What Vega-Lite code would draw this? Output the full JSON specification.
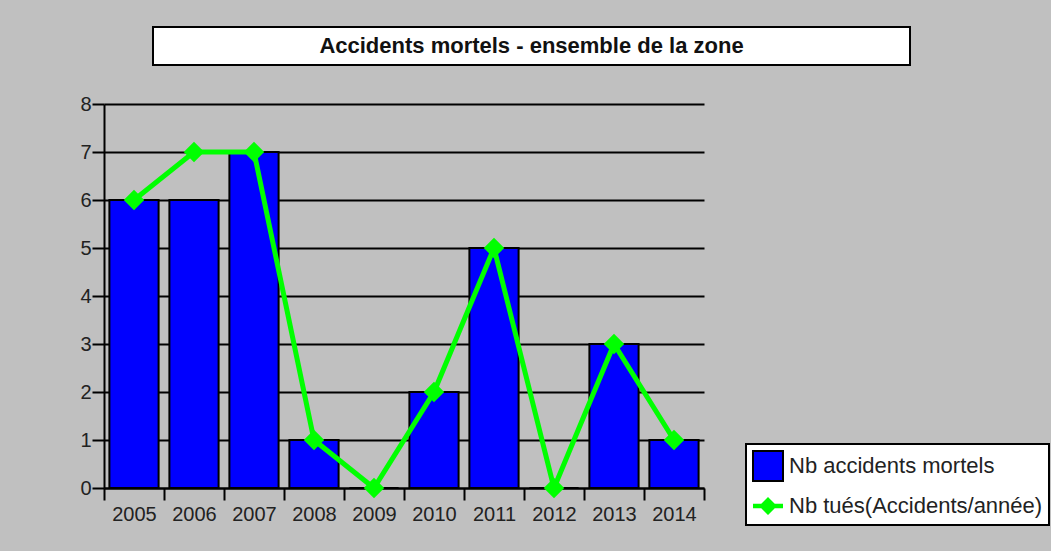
{
  "$schema": "https://vega.github.io/schema/vega-lite/v6.json",
  "background": "#c0c0c0",
  "padding": {"left": 79, "top": 26, "right": 15, "bottom": 27},
  "config": {
    "font": "Liberation Sans",
    "view": {"stroke": null}
  },
  "datasets": {
    "acc": [
      {"annee": "2005", "serie": "Nb accidents mortels", "valeur": 6},
      {"annee": "2006", "serie": "Nb accidents mortels", "valeur": 6},
      {"annee": "2007", "serie": "Nb accidents mortels", "valeur": 7},
      {"annee": "2008", "serie": "Nb accidents mortels", "valeur": 1},
      {"annee": "2009", "serie": "Nb accidents mortels", "valeur": 0},
      {"annee": "2010", "serie": "Nb accidents mortels", "valeur": 2},
      {"annee": "2011", "serie": "Nb accidents mortels", "valeur": 5},
      {"annee": "2012", "serie": "Nb accidents mortels", "valeur": 0},
      {"annee": "2013", "serie": "Nb accidents mortels", "valeur": 3},
      {"annee": "2014", "serie": "Nb accidents mortels", "valeur": 1},
      {"annee": "2005", "serie": "Nb tués(Accidents/année)", "valeur": 6},
      {"annee": "2006", "serie": "Nb tués(Accidents/année)", "valeur": 7},
      {"annee": "2007", "serie": "Nb tués(Accidents/année)", "valeur": 7},
      {"annee": "2008", "serie": "Nb tués(Accidents/année)", "valeur": 1},
      {"annee": "2009", "serie": "Nb tués(Accidents/année)", "valeur": 0},
      {"annee": "2010", "serie": "Nb tués(Accidents/année)", "valeur": 2},
      {"annee": "2011", "serie": "Nb tués(Accidents/année)", "valeur": 5},
      {"annee": "2012", "serie": "Nb tués(Accidents/année)", "valeur": 0},
      {"annee": "2013", "serie": "Nb tués(Accidents/année)", "valeur": 3},
      {"annee": "2014", "serie": "Nb tués(Accidents/année)", "valeur": 1}
    ],
    "titre": [{"texte": "Accidents mortels - ensemble de la zone"}]
  },
  "spacing": 28,
  "vconcat": [
    {
      "spacing": 0,
      "hconcat": [
        {
          "width": 48,
          "height": 38,
          "data": {"name": "titre"},
          "mark": {"type": "text", "text": ""},
          "view": {"stroke": null, "fill": null}
        },
        {
          "width": 757,
          "height": 38,
          "data": {"name": "titre"},
          "mark": {"type": "text", "fontSize": 22, "fontWeight": "bold", "color": "#111", "font": "Liberation Sans", "baseline": "middle", "align": "center"},
          "encoding": {"text": {"field": "texte"}},
          "view": {"fill": "white", "stroke": "black", "strokeWidth": 2}
        }
      ]
    },
    {
      "width": 600,
      "height": 384,
      "data": {"name": "acc"},
      "view": {"stroke": null},
      "encoding": {
        "x": {
          "field": "annee",
          "type": "nominal",
          "title": null,
          "scale": {"paddingInner": 0, "paddingOuter": 0},
          "axis": {
            "labelAngle": 0,
            "labelFontSize": 20,
            "labelColor": "#222",
            "labelPadding": 4,
            "tickBand": "extent",
            "tickSize": 12,
            "tickWidth": 2,
            "tickColor": "black",
            "domainColor": "black",
            "domainWidth": 2,
            "grid": false
          }
        },
        "y": {
          "field": "valeur",
          "type": "quantitative",
          "title": null,
          "scale": {"domain": [0, 8], "nice": false},
          "axis": {
            "values": [0, 1, 2, 3, 4, 5, 6, 7, 8],
            "labelOverlap": false,
            "labelFontSize": 20,
            "labelColor": "#222",
            "labelPadding": 1,
            "tickSize": 12,
            "tickWidth": 2,
            "tickColor": "black",
            "domainColor": "black",
            "domainWidth": 2,
            "grid": true,
            "gridColor": "black",
            "gridWidth": 2,
            "gridOpacity": 1
          }
        }
      },
      "layer": [
        {
          "transform": [{"filter": "datum.serie === 'Nb accidents mortels'"}],
          "mark": {"type": "bar", "stroke": "black", "strokeWidth": 2, "width": {"band": 0.82}},
          "encoding": {
            "color": {
              "field": "serie",
              "type": "nominal",
              "scale": {
                "domain": ["Nb accidents mortels", "Nb tués(Accidents/année)"],
                "range": ["#0000ff", "#00ff00"]
              },
              "legend": {
                "title": null,
                "orient": "none",
                "legendX": 642,
                "legendY": 417,
                "padding": 6,
                "rowPadding": 5,
                "labelOffset": 5,
                "labelFontSize": 22,
                "labelColor": "#222",
                "labelFont": "Liberation Sans",
                "labelLimit": 400,
                "symbolSize": 900,
                "symbolStrokeWidth": 2,
                "symbolStrokeColor": "black",
                "symbolOpacity": 1,
                "fillColor": "white",
                "strokeColor": "black",
                "encode": {
                  "legend": {"update": {"strokeWidth": {"value": 2}}},
                  "symbols": {
                    "update": {
                      "shape": {"signal": "datum.value === 'Nb accidents mortels' ? 'square' : 'M-1,-0.15H1V0.15H-1Z M0,-0.6L0.6,0L0,0.6L-0.6,0Z'"},
                      "stroke": {"signal": "datum.value === 'Nb accidents mortels' ? 'black' : 'transparent'"},
                      "fill": {"signal": "datum.value === 'Nb accidents mortels' ? '#0000ff' : '#00ff00'"},
                      "fillOpacity": {"value": 1}
                    }
                  }
                }
              }
            }
          }
        },
        {
          "transform": [{"filter": "datum.serie === 'Nb tués(Accidents/année)'"}],
          "mark": {
            "type": "line",
            "color": "#00ff00",
            "strokeWidth": 5,
            "point": {"filled": true, "shape": "diamond", "size": 420, "color": "#00ff00", "opacity": 1}
          },
          "encoding": {}
        }
      ]
    }
  ]
}
